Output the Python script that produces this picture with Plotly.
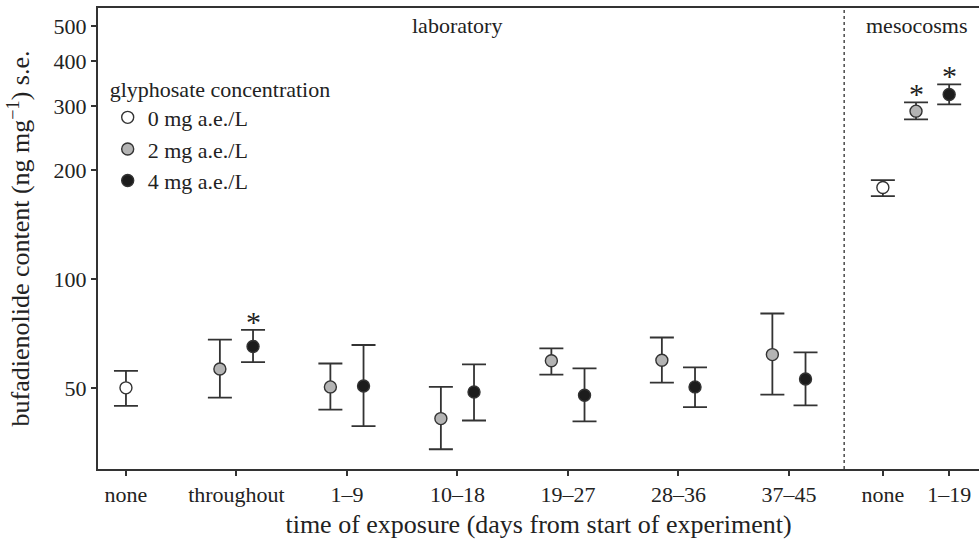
import math
import plotly.graph_objects as go

# ---------------- data ----------------
lab_categories = ["none", "throughout", "1–9", "10–18", "19–27", "28–36", "37–45"]
meso_categories = ["none", "1–19"]

series_names = ["0 mg a.e./L", "2 mg a.e./L", "4 mg a.e./L"]

# laboratory: 0 mg only for "none"; 2 and 4 mg for the exposure windows
lab_0_mean = [50.1]
lab_0_upper = [55.8]
lab_0_lower = [44.7]

lab_2_mean = [56.5, 50.4, 41.2, 59.5, 59.7, 61.9]
lab_2_upper = [68.1, 58.5, 50.4, 64.4, 69.0, 80.4]
lab_2_lower = [47.1, 43.6, 33.9, 54.5, 51.8, 48.0]

lab_4_mean = [65.2, 50.7, 48.8, 47.8, 50.4, 53.0]
lab_4_upper = [72.4, 65.8, 58.2, 56.7, 57.1, 62.8]
lab_4_lower = [59.0, 39.3, 40.7, 40.5, 44.3, 44.8]

# mesocosms
meso_0_mean = [179.2]
meso_0_upper = [187.7]
meso_0_lower = [169.6]
meso_2_mean = [291.1]
meso_2_upper = [307.7]
meso_2_lower = [276.2]
meso_4_mean = [323.7]
meso_4_upper = [345.0]
meso_4_lower = [303.8]

# significance flags (asterisks)
lab_2_sig = [False, False, False, False, False, False]
lab_4_sig = [True, False, False, False, False, False]
meso_2_sig = [True]
meso_4_sig = [True]

y_ticks = [50, 100, 200, 300, 400, 500]

# ---------------- layout helpers ----------------
FONT = "Liberation Serif, Times New Roman, serif"
FS = 22
AX = "#333333"
TXT = "#222222"
lab_pos = list(range(len(lab_categories)))
meso_none_pos = 6.85
meso_exp_pos = 7.45
offset = 0.15
divider = 6.5

fills = ["#ffffff", "#b4b4b4", "#1c1c1c"]

x0 = [lab_pos[0], meso_none_pos]
y0 = lab_0_mean + meso_0_mean
up0 = lab_0_upper + meso_0_upper
lo0 = lab_0_lower + meso_0_lower

x2 = [p - offset for p in lab_pos[1:]] + [meso_exp_pos - 2 * offset]
y2 = lab_2_mean + meso_2_mean
up2 = lab_2_upper + meso_2_upper
lo2 = lab_2_lower + meso_2_lower
sig2 = lab_2_sig + meso_2_sig

x4 = [p + offset for p in lab_pos[1:]] + [meso_exp_pos]
y4 = lab_4_mean + meso_4_mean
up4 = lab_4_upper + meso_4_upper
lo4 = lab_4_lower + meso_4_lower
sig4 = lab_4_sig + meso_4_sig

fig = go.Figure()
for name, xs, ys, ups, los, fill in [
    (series_names[0], x0, y0, up0, lo0, fills[0]),
    (series_names[1], x2, y2, up2, lo2, fills[1]),
    (series_names[2], x4, y4, up4, lo4, fills[2]),
]:
    fig.add_trace(go.Scatter(
        x=xs, y=ys, mode="markers", name=name,
        marker=dict(size=12, color=fill, line=dict(color=AX, width=1.4)),
        error_y=dict(type="data", symmetric=False,
                     array=[u - m for u, m in zip(ups, ys)],
                     arrayminus=[m - l for m, l in zip(ys, los)],
                     color=AX, thickness=1.8, width=12),
    ))

annotations = []
for xs, ups, sigs in [(x2, up2, sig2), (x4, up4, sig4)]:
    for xv, uv, s in zip(xs, ups, sigs):
        if s:
            # log axis: annotation y is given in log10 units
            annotations.append(dict(x=xv, y=math.log10(uv), yref="y", xref="x", text="*",
                                    showarrow=False, yanchor="bottom", yshift=-10,
                                    font=dict(family=FONT, size=30, color=TXT)))

annotations.append(dict(x=sum(lab_pos) / len(lab_pos), xref="x", y=1, yref="paper",
                        text="laboratory", showarrow=False, yanchor="top", yshift=-3,
                        font=dict(family=FONT, size=FS, color=TXT)))
annotations.append(dict(x=(meso_none_pos + meso_exp_pos) / 2, xref="x", y=1, yref="paper",
                        text="mesocosms", showarrow=False, yanchor="top", yshift=-3,
                        font=dict(family=FONT, size=FS, color=TXT)))

fig.update_layout(
    width=979, height=542,
    margin=dict(l=98, r=0, t=8, b=73),
    plot_bgcolor="white", paper_bgcolor="white",
    font=dict(family=FONT, size=FS, color=TXT),
    showlegend=True,
    legend=dict(x=0.011, y=0.87, xanchor="left", yanchor="top",
                title=dict(text="glyphosate concentration", font=dict(size=FS)),
                font=dict(size=FS), bgcolor="rgba(0,0,0,0)",
                itemwidth=30, tracegroupgap=0),
    annotations=annotations,
    shapes=[dict(type="line", xref="x", yref="paper", x0=divider, x1=divider, y0=0, y1=1,
                 line=dict(color="#555", width=1.6, dash="dot"))],
)

fig.update_xaxes(
    range=[-0.253, 7.72],
    tickvals=lab_pos + [meso_none_pos, meso_exp_pos],
    ticktext=lab_categories + meso_categories,
    ticks="outside", ticklen=5, tickwidth=1.5, tickcolor=AX,
    showline=True, linecolor=AX, linewidth=2, mirror=True,
    showgrid=False, zeroline=False,
    title=dict(text="time of exposure (days from start of experiment)", standoff=8),
)
fig.update_yaxes(
    type="log",
    range=[1.4757, 2.749],
    tickvals=y_ticks, ticktext=[str(v) for v in y_ticks],
    ticks="outside", ticklen=5, tickwidth=1.5, tickcolor=AX,
    showline=True, linecolor=AX, linewidth=2,
    showgrid=False, zeroline=False,
    title=dict(text="bufadienolide content (ng mg<sup>−1</sup>) s.e.", standoff=16),
)

fig.write_html("out.html", config={"displayModeBar": False},
               post_script="document.body.style.margin='0';document.body.style.overflow='hidden';")
